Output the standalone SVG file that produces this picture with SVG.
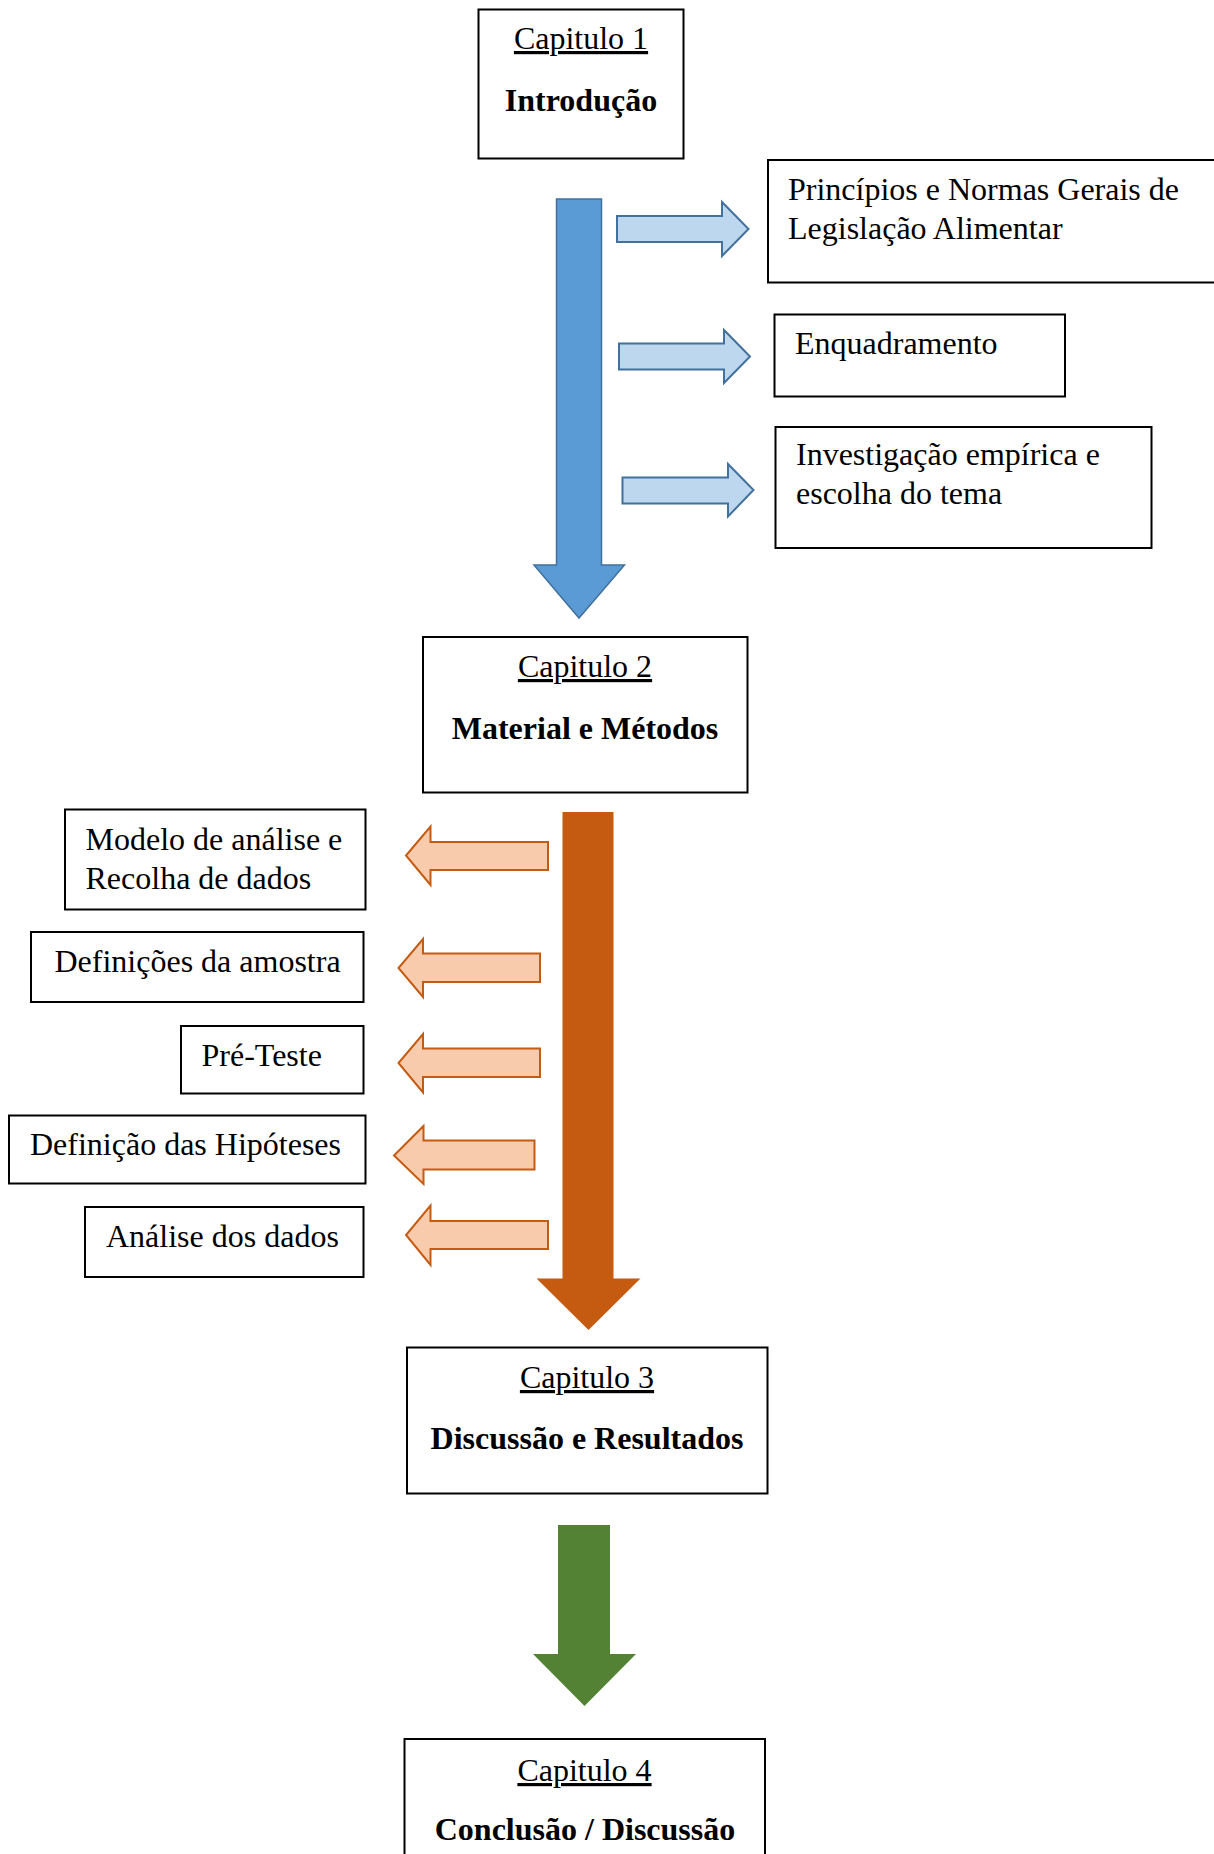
<svg xmlns="http://www.w3.org/2000/svg" width="1214" height="1854" viewBox="0 0 1214 1854">
<style>
.box{fill:#fff;stroke:#000;stroke-width:2}
.t{font-family:"Liberation Serif","Times New Roman",serif;font-size:32px;fill:#000}
.c{text-anchor:middle}
.b{font-weight:bold}
.u{text-decoration:underline}
.bigblue{fill:#5B9BD5;stroke:#41719C;stroke-width:1.5}
.smallblue{fill:#BDD7EE;stroke:#41719C;stroke-width:2}
.bigorange{fill:#C55A11}
.smallorange{fill:#F8CBAD;stroke:#C55A11;stroke-width:2}
.green{fill:#548235}
</style>
<rect width="1214" height="1854" fill="#fff"/>
<g id="connectors">
<path class="bigblue" d="M556.5,199 H601.5 V565 H624.5 L579,618 L534,565 H556.5 Z"/>
<path class="smallblue" d="M617,216 H722 V202 L748.5,229 L722,256 V242 H617 Z"/>
<path class="smallblue" d="M619,343.5 H724 V330 L750,356.5 L724,383 V369.5 H619 Z"/>
<path class="smallblue" d="M622.5,477.5 H728 V464 L753.5,490 L728,516.5 V503.5 H622.5 Z"/>
<path class="bigorange" d="M562.5,812 H613.5 V1278.5 H640.5 L588.5,1330 L536.5,1278.5 H562.5 Z"/>
<path class="smallorange" d="M548,842 H430.5 V826.5 L406,855.5 L430.5,885 V870 H548 Z"/>
<path class="smallorange" d="M540,953.5 H423 V939 L398.5,968 L423,997 V982 H540 Z"/>
<path class="smallorange" d="M540,1048.5 H423 V1034 L398.5,1063 L423,1092.5 V1077 H540 Z"/>
<path class="smallorange" d="M534.5,1140.5 H423.5 V1126 L394,1155.5 L423.5,1184 V1169.5 H534.5 Z"/>
<path class="smallorange" d="M548,1221 H430.5 V1205.5 L406,1235 L430.5,1265 V1249 H548 Z"/>
<path class="green" d="M558,1525 H610 V1654 H636 L584.5,1706 L533,1654 H558 Z"/>
</g>
<g id="cap1">
<rect class="box" x="478.5" y="9.5" width="205" height="149"/>
<text class="t c u" x="581" y="49">Capitulo 1</text>
<text class="t c b" x="581" y="111">Introdução</text>
</g>
<g id="principios">
<rect class="box" x="768" y="160" width="460" height="122.5"/>
<text class="t" x="788" y="200">Princípios e Normas Gerais de</text>
<text class="t" x="788" y="239">Legislação Alimentar</text>
</g>
<g id="enquadramento">
<rect class="box" x="774.5" y="314.5" width="290.5" height="82"/>
<text class="t" x="795" y="353.5">Enquadramento</text>
</g>
<g id="investigacao">
<rect class="box" x="775.5" y="427" width="376" height="121"/>
<text class="t" x="796" y="465">Investigação empírica e</text>
<text class="t" x="796" y="504">escolha do tema</text>
</g>
<g id="cap2">
<rect class="box" x="423" y="637" width="324.5" height="155.5"/>
<text class="t c u" x="585" y="677">Capitulo 2</text>
<text class="t c b" x="585" y="738.5">Material e Métodos</text>
</g>
<g id="modelo">
<rect class="box" x="65" y="809.5" width="300.5" height="100"/>
<text class="t" x="85.5" y="850">Modelo de análise e</text>
<text class="t" x="85.5" y="889">Recolha de dados</text>
</g>
<g id="amostra">
<rect class="box" x="31" y="932" width="332.5" height="70"/>
<text class="t" x="54.5" y="972">Definições da amostra</text>
</g>
<g id="preteste">
<rect class="box" x="181" y="1026" width="182.5" height="67.5"/>
<text class="t" x="201.5" y="1065.5">Pré-Teste</text>
</g>
<g id="hipoteses">
<rect class="box" x="9" y="1115.5" width="356.5" height="68"/>
<text class="t" x="30" y="1155">Definição das Hipóteses</text>
</g>
<g id="analise">
<rect class="box" x="85" y="1207" width="278.5" height="70"/>
<text class="t" x="106" y="1247">Análise dos dados</text>
</g>
<g id="cap3">
<rect class="box" x="407" y="1347.5" width="360.5" height="146"/>
<text class="t c u" x="587" y="1388">Capitulo 3</text>
<text class="t c b" x="587" y="1449">Discussão e Resultados</text>
</g>
<g id="cap4">
<rect class="box" x="404.5" y="1739" width="360.5" height="140"/>
<text class="t c u" x="584.5" y="1781">Capitulo 4</text>
<text class="t c b" x="585" y="1840">Conclusão / Discussão</text>
</g>
</svg>
